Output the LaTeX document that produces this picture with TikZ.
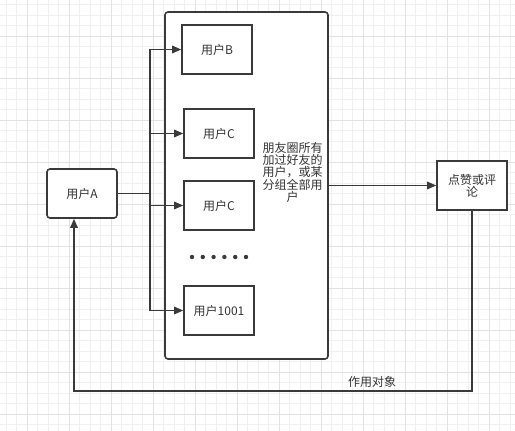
\documentclass[tikz,border=0pt]{standalone}
\usepackage{fontspec}
\setmainfont{Noto Sans CJK SC}
\usetikzlibrary{arrows.meta}
\definecolor{ink}{HTML}{3A3A3A}
\definecolor{txt}{HTML}{333333}
\definecolor{gridminor}{HTML}{F0F0F0}
\definecolor{gridmajor}{HTML}{E2E2E2}
\tikzset{
  box/.style={draw=ink, line width=1.6pt, minimum width=70pt, minimum height=49pt, inner sep=0pt, font=\fontsize{12}{13}\selectfont, text=txt},
  rbox/.style={box, rounded corners=3pt},
  arr/.style={draw=ink, line width=1.5pt, -{Triangle[length=9pt,width=7.5pt]}},
  plain/.style={draw=ink, line width=1.5pt},
  lbl/.style={font=\fontsize{12}{10.5}\selectfont, text=txt, align=center, inner sep=0pt},
}
\begin{document}
\begin{tikzpicture}[x=1pt,y=-1pt]
\useasboundingbox[fill=white] (0,0) rectangle (515,431);
% background grid
\foreach \i in {0,...,49} {\draw[gridminor, line width=0.8pt] ({6.3+10.5*\i},0) -- ({6.3+10.5*\i},431);}
\foreach \i in {0,...,41} {\draw[gridminor, line width=0.8pt] (0,{4.5+10.5*\i}) -- (515,{4.5+10.5*\i});}
\foreach \i in {0,...,11} {\draw[gridmajor, line width=0.8pt] ({27.3+42*\i},0) -- ({27.3+42*\i},431);}
\foreach \i in {0,...,9} {\draw[gridmajor, line width=0.8pt] (0,{36+42*\i}) -- (515,{36+42*\i});}

% container
\node[draw=ink, fill=white, line width=1.6pt, rounded corners=3pt, minimum width=163pt, minimum height=347pt, inner sep=0pt] (group) at (246.5,185.5) {};
\node[lbl, text width=62pt] (grouptxt) at (292.5,172.5) {朋友圈所有\\加过好友的\\用户，或某\\分组全部用\\户};

% user boxes
\node[rbox, fill=white] (A) at (82,193.5) {用户A};
\node[box, fill=white] (B) at (217,49.5) {用户B};
\node[box, fill=white] (C1) at (219,133.5) {用户C};
\node[box, fill=white] (C2) at (219,205.5) {用户C};
\node[box, fill=white] (U1001) at (219,310.5) {用户1001};
\node[box, fill=white, minimum height=49pt, text width=60pt, align=center, font=\fontsize{12}{12}\selectfont] (L) at (472,185.5) {点赞或评\\论};

% dots
\foreach \k in {0,...,5} {\fill[ink] ({192+10.8*\k},257) circle (2.2pt);}

% fan-out connectors
\coordinate (trunk) at (150,193.5);
\draw[plain] (A.east) -- (trunk);
\draw[arr] (trunk) |- (B.west);
\draw[arr] (trunk) |- (C1.west);
\draw[arr] (trunk) |- (C2.west);
\draw[arr] (trunk) |- (U1001.west);

% group to like/comment
\draw[arr] (group.east |- L.west) -- (L.west);

% feedback loop
\coordinate (c1) at (472,391);
\coordinate (c2) at (74,391);
\draw[arr] (L.south) -- (c1) -- (c2) -- (c2 |- A.south);
\node[lbl, font=\fontsize{12}{13}\selectfont] (obj) at (372,382) {作用对象};
\end{tikzpicture}
\end{document}
